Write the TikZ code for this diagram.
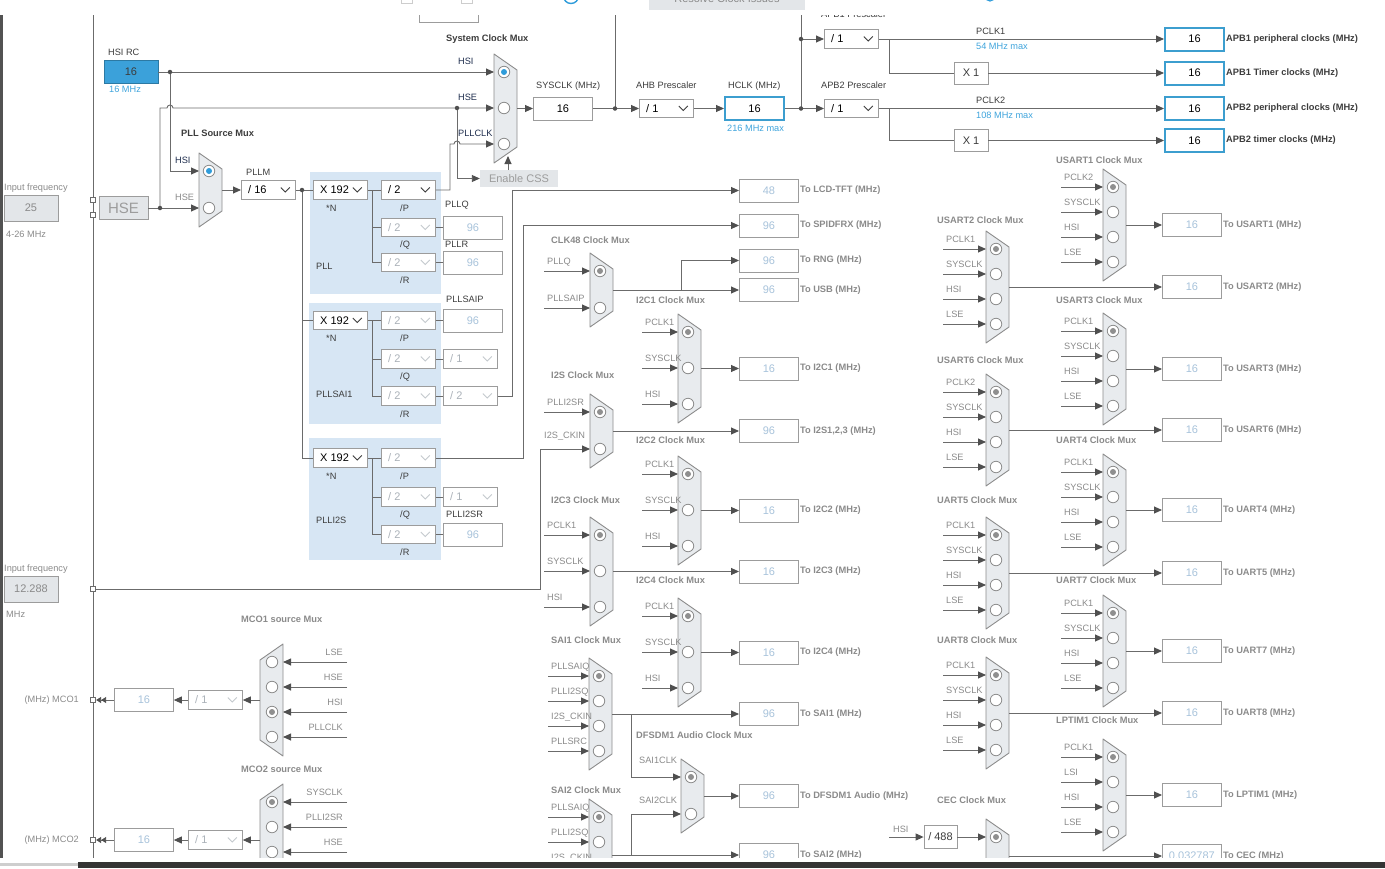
\documentclass[tikz,border=0pt]{standalone}
\usepackage{fontspec}
\setmainfont{Liberation Sans}
\usetikzlibrary{arrows.meta, positioning}

% colours
\definecolor{wirec}{HTML}{6B6B6B}
\definecolor{tipc}{HTML}{4F4F4F}
\definecolor{muxfill}{HTML}{E8EBEE}
\definecolor{muxedge}{HTML}{8C8C8C}
\definecolor{plltint}{HTML}{D7E6F4}
\definecolor{hotblue}{HTML}{3C9ECF}
\definecolor{hsifill}{HTML}{3BA1DA}
\definecolor{skytxt}{HTML}{3FA4DC}
\definecolor{dimval}{HTML}{A8C3DB}
\definecolor{dimtxt}{HTML}{ABB2B9}
\definecolor{graytxt}{HTML}{8A8A8A}
\definecolor{darktxt}{HTML}{3C3C3C}
\definecolor{navytxt}{HTML}{1F2E4E}
\definecolor{panelgray}{HTML}{E3E6E9}
\definecolor{boxedge}{HTML}{9C9C9C}
\definecolor{selblue}{HTML}{2F9CDA}
\definecolor{selgray}{HTML}{8F8F8F}
\definecolor{barc}{HTML}{343434}

\newcommand{\lblfont}{\fontsize{9.2}{10}\selectfont}
\newcommand{\ttlfont}{\fontsize{9.3}{10}\selectfont\bfseries}
\newcommand{\valfont}{\fontsize{11}{13}\selectfont}

\tikzset{
    wire/.style={draw=wirec, line width=0.9pt},
    feed/.style={wire, -{Triangle[length=8pt, width=7pt, color=tipc]}},
    dfeed/.style={wire, -{Triangle[length=5pt, width=6pt, color=tipc] Triangle[length=5pt, width=6pt, color=tipc]}},
    junction/.style={circle, fill=tipc, minimum size=4.5pt, inner sep=0pt},
    port/.style={draw=wirec, fill=white, minimum size=5.5pt, inner sep=0pt, line width=0.8pt},
    muxbody/.style={draw=muxedge, fill=muxfill, line width=0.9pt, line join=round},
    radio/.style={circle, draw=muxedge, fill=white, minimum size=11.5pt, inner sep=0pt, line width=0.8pt},
    radiodot/.style={circle, fill=#1, minimum size=6pt, inner sep=0pt},
    valbox/.style={draw=boxedge, fill=white, minimum width=59pt, minimum height=23pt,
        inner sep=0pt, line width=0.8pt, font=\valfont, text=dimval},
    livebox/.style={valbox, text=black},
    hotbox/.style={valbox, draw=hotblue, line width=2pt, text=black},
    pickbox/.style={draw=boxedge, fill=white, minimum width=54pt, minimum height=18.5pt,
        inner sep=0pt, line width=0.8pt},
    plainbox/.style={draw=boxedge, fill=white, minimum height=22pt, inner sep=0pt,
        line width=0.8pt, font=\valfont, text=darktxt},
    greybox/.style={draw=boxedge, fill=panelgray, inner sep=0pt, line width=0.8pt, text=graytxt},
    lbl/.style={font=\lblfont, text=darktxt, inner sep=0pt, anchor=base west},
    inlab/.style={lbl, text=graytxt},
    livelab/.style={lbl, text=navytxt},
    skylab/.style={lbl, text=skytxt},
    ttl/.style={lbl, font=\ttlfont},
    gttl/.style={ttl, text=graytxt},
    outlab/.style={font=\ttlfont, text=graytxt, inner sep=1pt, anchor=west},
    apblab/.style={outlab, text=darktxt},
}

% right-facing selector: name, left x, first radio y, inputs, pitch, chosen input, dot colour
\newcommand{\clkmux}[7]{%
  \pgfmathsetmacro\mxtop{#3-18}%
  \pgfmathsetmacro\mxbot{#3+(#4-1)*#5+19}%
  \pgfmathsetmacro\mxmid{(\mxtop+\mxbot)/2}%
  \draw[muxbody] (#2,\mxtop) -- (#2+23,\mxtop+16) -- (#2+23,\mxbot-16) -- (#2,\mxbot) -- cycle;
  \coordinate (#1-out) at (#2+23,\mxmid);
  \foreach \k in {1,...,#4}{%
    \pgfmathsetmacro\mxry{#3+(\k-1)*#5}%
    \node[radio] (#1-r\k) at (#2+10,\mxry) {};
    \coordinate (#1-in\k) at (#2,\mxry);
  }%
  \node[radiodot=#7] (#1-sel) at (#1-r#6) {};
}
% left-facing selector (MCO): name, right x, first radio y, inputs, pitch, chosen input
\newcommand{\mcomux}[6]{%
  \pgfmathsetmacro\mxtop{#3-18}%
  \pgfmathsetmacro\mxbot{#3+(#4-1)*#5+19}%
  \pgfmathsetmacro\mxmid{(\mxtop+\mxbot)/2}%
  \draw[muxbody] (#2,\mxtop) -- (#2,\mxbot) -- (#2-23,\mxbot-16) -- (#2-23,\mxtop+16) -- cycle;
  \coordinate (#1-out) at (#2-23,\mxmid);
  \foreach \k in {1,...,#4}{%
    \pgfmathsetmacro\mxry{#3+(\k-1)*#5}%
    \node[radio] (#1-r\k) at (#2-11,\mxry) {};
    \coordinate (#1-in\k) at (#2,\mxry);
  }%
  \node[radiodot=selgray] (#1-sel) at (#1-r#6) {};
}
% input leads from the left: mux name, lead length, labels
\newcommand{\feeds}[3]{%
  \foreach \feedname [count=\k] in {#3}{%
    \coordinate (#1-src\k) at ([xshift=-#2pt]#1-in\k);
    \draw[feed] (#1-src\k) -- (#1-in\k);
    \node[inlab] (#1-l\k) at ([xshift=3pt, yshift=7pt]#1-src\k) {\feedname};
  }%
}
% input leads from the right
\newcommand{\feedsR}[3]{%
  \foreach \feedname [count=\k] in {#3}{%
    \coordinate (#1-src\k) at ([xshift=#2pt]#1-in\k);
    \draw[feed] (#1-src\k) -- (#1-in\k);
    \node[inlab, anchor=base east] (#1-l\k) at ([xshift=-4pt, yshift=7pt]#1-src\k) {\feedname};
  }%
}
% output value box: mux name, column, value, label
\newcommand{\tapout}[4]{%
  \node[valbox, anchor=west] (#1-box) at (#1-out -| #2) {#3};
  \node[outlab] (#1-txt) at (#1-box.east) {#4};
  \draw[feed] (#1-out) -- (#1-box);
}
% drop-down: name, left x, y, text, live
\newcommand{\pick}[5]{%
  \ifnum#5=1 \def\pickink{black}\def\pickedge{darktxt}\else\def\pickink{dimtxt}\def\pickedge{dimtxt!70}\fi
  \node[pickbox, anchor=west] (#1) at (#2,#3) {};
  \node[font=\valfont, text=\pickink, anchor=west, inner sep=0pt] (#1-t) at ([xshift=7pt]#1.west) {#4};
  \draw[draw=\pickedge, line width=0.8pt] ([xshift=-15pt, yshift=2.5pt]#1.east) -- ++(4.5pt,-4.5pt) -- ++(4.5pt,4.5pt);
}
% PLL core: name, N row y, Q y, R y, P live
\newcommand{\pllcore}[5]{%
  \pick{#1N}{313}{#2}{X 192}{1}
  \pick{#1P}{381}{#2}{/ 2}{#5}
  \pick{#1Q}{381}{#3}{/ 2}{0}
  \pick{#1R}{381}{#4}{/ 2}{0}
  \node[lbl] (#1-n) at (326,#2+21) {*N};
  \node[lbl] (#1-p) at (400,#2+21) {/P};
  \node[lbl] (#1-q) at (400,#3+20) {/Q};
  \node[lbl] (#1-r) at (400,#4+21) {/R};
  \coordinate (#1Fork) at (372,#2);
  \draw[wire] (#1N) -- (#1P);
  \draw[wire] (#1Fork) |- (#1Q);
  \draw[wire] (#1Fork) |- (#1R);
}

\begin{document}
\begin{tikzpicture}[x=1pt, y=-1pt]
  \useasboundingbox (0,0) rectangle (1385,868);
  % toolbar remnants
  \node[fill=panelgray, minimum width=156pt, minimum height=22pt, inner sep=0pt,
        font=\valfont, text=graytxt] (resolve) at (727,-1) {Resolve Clock Issues};
  \draw[draw=selblue, line width=1.4pt] (571,-4) circle[radius=7.5pt];
  \draw[draw=selblue, line width=1.2pt] (990,-4) circle[radius=5pt];
  \draw[draw=boxedge!50] (401,-10) rectangle (412,3);
  \draw[draw=boxedge!50] (461,-10) rectangle (472,3);

  \begin{scope}
    \clip (0,15) rectangle (1385,857);
    % PLL backdrops
    \fill[plltint] (310,172) rectangle (441,294);
    \fill[plltint] (309,303) rectangle (441,424);
    \fill[plltint] (309,438) rectangle (441,560);
    % border and input rail
    \draw[line width=2.6pt, draw=barc!85] (1.3,0) -- (1.3,868);
    \coordinate (railN) at (93,0);
    \coordinate (railS) at (93,868);
    \draw[wire] (railN) -- (railS);
    \coordinate (colB) at (739,0);
    \coordinate (colE) at (1162,0);
    \draw[draw=boxedge] (419,0) rectangle (478,22);
    \node[lbl] (apbAT) at (821,17) {APB1 Prescaler};

    % oscillators
    \node[lbl, text=graytxt] (hseFreqT) at (4,190) {Input frequency};
    \node[greybox, minimum width=54pt, minimum height=26pt, font=\valfont] (hseFreq) at (31,208) {25};
    \node[lbl, text=graytxt] (hseRange) at (6,237) {4-26 MHz};
    \node[greybox, minimum width=49pt, minimum height=23pt, font=\fontsize{15}{17}\selectfont, text=boxedge] (hse) at (123.5,208) {HSE};
    \node[port] (hsePortA) at (93,200) {};
    \node[port] (hsePortB) at (93,215) {};
    \node[lbl] (hsiT) at (108,55) {HSI RC};
    \node[draw=hsifill!75!black, fill=hsifill, minimum width=54pt, minimum height=23pt,
          font=\valfont, text=darktxt, line width=0.8pt] (hsi) at (131,72) {16};
    \node[skylab] (hsiF) at (109,92) {16 MHz};

    % PLL source and system clock selectors
    \node[ttl] (pllsrcT) at (181,136) {PLL Source Mux};
    \clkmux{pllsrc}{199}{171}{2}{37}{1}{selblue}
    \node[ttl] (sysmuxT) at (446,41) {System Clock Mux};
    \clkmux{sysmux}{494}{72}{3}{36}{1}{selblue}
    \node[livelab] (pllsrcL1) at (175,163) {HSI};
    \node[inlab] (pllsrcL2) at (175,200) {HSE};
    \node[livelab] (sysmuxL1) at (458,64) {HSI};
    \node[livelab] (sysmuxL2) at (458,100) {HSE};
    \node[livelab] (sysmuxL3) at (458,136) {PLLCLK};
    \coordinate (hsiJ) at (170,72);
    \coordinate (hseJ) at (160,208);
    \coordinate (hopA) at (167,108);
    \coordinate (cssJ) at (457,108);
    \draw[feed] (hsi) -- (sysmux-in1);
    \draw[feed] (hsiJ) |- (pllsrc-in1);
    \draw[feed] (hse) -- (pllsrc-in2);
    \draw[feed] (hseJ) |- (hopA) arc[start angle=180, end angle=0, radius=3pt] -- (sysmux-in2);
    \node[fill=panelgray, minimum width=78pt, minimum height=17pt, inner sep=0pt,
          font=\valfont, text=boxedge] (css) at (519,178.5) {Enable CSS};
    \draw[feed] (cssJ) |- (css);
    \coordinate (cssUp) at (508,170);
    \coordinate (cssTip) at (508,156);
    \draw[feed] (cssUp) -- (cssTip);

    % PLLs
    \pick{pllm}{241}{190}{/ 16}{1}
    \node[lbl] (pllmT) at (246,175) {PLLM};
    \draw[feed] (pllsrc-out) -- (pllm);
    \pllcore{pll}{190}{227.5}{262.5}{1}
    \pllcore{sai}{320.5}{359}{396}{0}
    \pllcore{i2s}{458}{497}{534.5}{0}
    \coordinate (pllmJ) at (302,190);
    \draw[wire] (pllm) -- (pllN);
    \draw[wire] (pllmJ) |- (saiN);
    \draw[wire] (pllmJ) |- (i2sN);
    \node[lbl] (pllT) at (316,269) {PLL};
    \node[lbl] (saiT) at (316,397) {PLLSAI1};
    \node[lbl] (i2sT) at (316,523) {PLLI2S};
    \coordinate (pllclkA) at (450,190);
    \coordinate (hopB) at (454,144);
    \draw[feed] (pllP) -- (pllclkA) |- (hopB) arc[start angle=180, end angle=0, radius=3pt] -- (sysmux-in3);
    \node[lbl] (pllQT) at (445,207) {PLLQ};
    \node[valbox, anchor=west] (pllQout) at (443,227.5) {96};
    \node[lbl] (pllRT) at (445,247) {PLLR};
    \node[valbox, anchor=west] (pllRout) at (443,262.5) {96};
    \draw[wire] (pllQ) -- (pllQout);
    \draw[wire] (pllR) -- (pllRout);
    \node[lbl] (saiPT) at (446,302) {PLLSAIP};
    \node[valbox, anchor=west] (saiPout) at (443,320.5) {96};
    \draw[wire] (saiP) -- (saiPout);
    \pick{saiQdiv}{443}{359}{/ 1}{0}
    \pick{saiRdiv}{443}{396}{/ 2}{0}
    \draw[wire] (saiQ) -- (saiQdiv);
    \draw[wire] (saiR) -- (saiRdiv);
    \pick{i2sQdiv}{443}{497}{/ 1}{0}
    \node[lbl] (i2sRT) at (446,517) {PLLI2SR};
    \node[valbox, anchor=west] (i2sRout) at (443,534.5) {96};
    \draw[wire] (i2sQ) -- (i2sQdiv);
    \draw[wire] (i2sR) -- (i2sRout);

    % system bus
    \node[livebox, right=16pt of sysmux-out] (sysclk) {16};
    \node[lbl] (sysclkT) at (536,88) {SYSCLK (MHz)};
    \pick{ahb}{639}{108.5}{/ 1}{1}
    \node[lbl] (ahbT) at (636,88) {AHB Prescaler};
    \node[hotbox, anchor=west] (hclk) at (724,108.5) {16};
    \node[lbl] (hclkT) at (728,88) {HCLK (MHz)};
    \node[skylab] (hclkMax) at (727,131) {216 MHz max};
    \pick{apbA}{824}{39}{/ 1}{1}
    \pick{apbB}{824}{108.5}{/ 1}{1}
    \node[lbl] (apbBT) at (821,88) {APB2 Prescaler};
    \coordinate (ahbJ) at (615,108.5);
    \coordinate (ahbN) at (615,0);
    \coordinate (apbJ) at (801,108.5);
    \coordinate (apbN) at (801,0);
    \coordinate (apbAJ) at (801,39);
    \draw[feed] (sysmux-out) -- (sysclk);
    \draw[feed] (sysclk) -- (ahb);
    \draw[wire] (ahbJ) -- (ahbN);
    \draw[feed] (ahb) -- (hclk);
    \draw[feed] (hclk) -- (apbB);
    \draw[wire] (apbJ) -- (apbN);
    \draw[feed] (apbAJ) -- (apbA);
    \node[hotbox, anchor=west] (apbAper) at (1164,39) {16};
    \node[hotbox, anchor=west] (apbAtim) at (1164,73) {16};
    \node[hotbox, anchor=west] (apbBper) at (1164,108.5) {16};
    \node[hotbox, anchor=west] (apbBtim) at (1164,140.5) {16};
    \node[apblab] (apbAperT) at (apbAper.east) {APB1 peripheral clocks (MHz)};
    \node[apblab] (apbAtimT) at (apbAtim.east) {APB1 Timer clocks (MHz)};
    \node[apblab] (apbBperT) at (apbBper.east) {APB2 peripheral clocks (MHz)};
    \node[apblab] (apbBtimT) at (apbBtim.east) {APB2 timer clocks (MHz)};
    \node[plainbox, minimum width=34pt] (timA) at (971,73) {X 1};
    \node[plainbox, minimum width=34pt] (timB) at (971,140.5) {X 1};
    \coordinate (pclkAJ) at (889,39);
    \coordinate (pclkBJ) at (889,108.5);
    \draw[feed] (apbA) -- (apbAper);
    \draw[wire] (pclkAJ) |- (timA);
    \draw[feed] (timA) -- (apbAtim);
    \draw[feed] (apbB) -- (apbBper);
    \draw[wire] (pclkBJ) |- (timB);
    \draw[feed] (timB) -- (apbBtim);
    \node[lbl] (pclkAT) at (976,34) {PCLK1};
    \node[skylab] (pclkAMax) at (976,49) {54 MHz max};
    \node[lbl] (pclkBT) at (976,103) {PCLK2};
    \node[skylab] (pclkBMax) at (976,118) {108 MHz max};

    % PLL-fed outputs
    \node[valbox, anchor=west] (lcd) at (739,190.5) {48};
    \node[outlab] (lcdT) at (lcd.east) {To LCD-TFT (MHz)};
    \node[valbox, anchor=west] (spdif) at (739,225.5) {96};
    \node[outlab] (spdifT) at (spdif.east) {To SPIDFRX (MHz)};
    \coordinate (lcdBend) at (512,396);
    \coordinate (spdifBend) at (523,458);
    \draw[feed] (saiRdiv) -- (lcdBend) |- (lcd);
    \draw[feed] (i2sP) -- (spdifBend) |- (spdif);

    % CLK48
    \node[gttl] (clkBT) at (551,243) {CLK48 Clock Mux};
    \clkmux{clkB}{590}{271}{2}{37}{1}{selgray}
    \feeds{clkB}{46}{PLLQ,PLLSAIP}
    \tapout{clkB}{colB}{96}{To USB (MHz)}
    \node[valbox, anchor=west] (rng) at (739,260.5) {96};
    \node[outlab] (rngT) at (rng.east) {To RNG (MHz)};
    \coordinate (rngJ) at (681,290);
    \draw[feed] (rngJ) |- (rng);

    % I2S
    \node[gttl] (i2smT) at (551,378) {I2S Clock Mux};
    \clkmux{i2sm}{590}{412}{2}{37}{1}{selgray}
    \feeds{i2sm}{46}{PLLI2SR}
    \node[lbl, text=graytxt] (ckinFreqT) at (4,571) {Input frequency};
    \node[greybox, minimum width=54pt, minimum height=26pt, font=\valfont] (ckinFreq) at (31,589) {12.288};
    \node[lbl, text=graytxt] (ckinUnit) at (6,617) {MHz};
    \node[port] (ckinPort) at (93,589) {};
    \coordinate (ckinBend) at (540,589);
    \draw[feed] (ckinPort) -- (ckinBend) |- (i2sm-in2);
    \node[inlab] (i2smL2) at (544,438) {I2S\_CKIN};
    \tapout{i2sm}{colB}{96}{To I2S1,2,3 (MHz)}

    % I2C3
    \node[gttl] (i2cCT) at (551,503) {I2C3 Clock Mux};
    \clkmux{i2cC}{590}{535}{3}{36}{1}{selgray}
    \feeds{i2cC}{46}{PCLK1,SYSCLK,HSI}
    \tapout{i2cC}{colB}{16}{To I2C3 (MHz)}

    % SAI1 / SAI2 / DFSDM1
    \node[gttl] (saiOneT) at (551,643) {SAI1 Clock Mux};
    \clkmux{saiOne}{589}{676}{4}{25}{1}{selgray}
    \feeds{saiOne}{41}{PLLSAIQ,PLLI2SQ,I2S\_CKIN,PLLSRC}
    \tapout{saiOne}{colB}{96}{To SAI1 (MHz)}
    \node[gttl] (saiTwoT) at (551,793) {SAI2 Clock Mux};
    \clkmux{saiTwo}{589}{817}{4}{25}{1}{selgray}
    \feeds{saiTwo}{41}{PLLSAIQ,PLLI2SQ,I2S\_CKIN,PLLSRC}
    \tapout{saiTwo}{colB}{96}{To SAI2 (MHz)}
    \node[gttl] (dfsdmT) at (636,738) {DFSDM1 Audio Clock Mux};
    \clkmux{dfsdm}{681}{777}{2}{37}{1}{selgray}
    \coordinate (saiOneJ) at (631,714);
    \coordinate (saiTwoJ) at (631,855);
    \draw[feed] (saiOneJ) |- (dfsdm-in1);
    \draw[feed] (saiTwoJ) |- (dfsdm-in2);
    \node[inlab] (dfsdmL1) at (639,763) {SAI1CLK};
    \node[inlab] (dfsdmL2) at (639,803) {SAI2CLK};
    \tapout{dfsdm}{colB}{96}{To DFSDM1 Audio (MHz)}

    % I2C1 / I2C2 / I2C4
    \node[gttl] (i2cAT) at (636,303) {I2C1 Clock Mux};
    \clkmux{i2cA}{678}{332}{3}{36}{1}{selgray}
    \feeds{i2cA}{36}{PCLK1,SYSCLK,HSI}
    \tapout{i2cA}{colB}{16}{To I2C1 (MHz)}
    \node[gttl] (i2cBT) at (636,443) {I2C2 Clock Mux};
    \clkmux{i2cB}{678}{474}{3}{36}{1}{selgray}
    \feeds{i2cB}{36}{PCLK1,SYSCLK,HSI}
    \tapout{i2cB}{colB}{16}{To I2C2 (MHz)}
    \node[gttl] (i2cDT) at (636,583) {I2C4 Clock Mux};
    \clkmux{i2cD}{678}{616}{3}{36}{1}{selgray}
    \feeds{i2cD}{36}{PCLK1,SYSCLK,HSI}
    \tapout{i2cD}{colB}{16}{To I2C4 (MHz)}

    % USART2 / USART6 / UART5 / UART8 / CEC
    \node[gttl] (usartBT) at (937,223) {USART2 Clock Mux};
    \clkmux{usartB}{986}{249}{4}{25}{1}{selgray}
    \feeds{usartB}{43}{PCLK1,SYSCLK,HSI,LSE}
    \tapout{usartB}{colE}{16}{To USART2 (MHz)}
    \node[gttl] (usartFT) at (937,363) {USART6 Clock Mux};
    \clkmux{usartF}{986}{392}{4}{25}{1}{selgray}
    \feeds{usartF}{43}{PCLK2,SYSCLK,HSI,LSE}
    \tapout{usartF}{colE}{16}{To USART6 (MHz)}
    \node[gttl] (uartET) at (937,503) {UART5 Clock Mux};
    \clkmux{uartE}{986}{535}{4}{25}{1}{selgray}
    \feeds{uartE}{43}{PCLK1,SYSCLK,HSI,LSE}
    \tapout{uartE}{colE}{16}{To UART5 (MHz)}
    \node[gttl] (uartHT) at (937,643) {UART8 Clock Mux};
    \clkmux{uartH}{986}{675}{4}{25}{1}{selgray}
    \feeds{uartH}{43}{PCLK1,SYSCLK,HSI,LSE}
    \tapout{uartH}{colE}{16}{To UART8 (MHz)}
    \node[gttl] (cecT) at (937,803) {CEC Clock Mux};
    \clkmux{cec}{986}{837}{2}{37}{1}{selgray}
    \node[plainbox, minimum width=33pt, minimum height=23pt] (cecDiv) at (940.5,837) {/ 488};
    \coordinate (cecSrc) at (889,837);
    \draw[feed] (cecSrc) -- (cecDiv);
    \draw[feed] (cecDiv) -- (cec-in1);
    \node[inlab] (cecL) at (893,832) {HSI};
    \tapout{cec}{colE}{0.032787}{To CEC (MHz)}

    % USART1 / USART3 / UART4 / UART7 / LPTIM1
    \node[gttl] (usartAT) at (1056,163) {USART1 Clock Mux};
    \clkmux{usartA}{1103}{187}{4}{25}{1}{selgray}
    \feeds{usartA}{42}{PCLK2,SYSCLK,HSI,LSE}
    \tapout{usartA}{colE}{16}{To USART1 (MHz)}
    \node[gttl] (usartCT) at (1056,303) {USART3 Clock Mux};
    \clkmux{usartC}{1103}{331}{4}{25}{1}{selgray}
    \feeds{usartC}{42}{PCLK1,SYSCLK,HSI,LSE}
    \tapout{usartC}{colE}{16}{To USART3 (MHz)}
    \node[gttl] (uartDT) at (1056,443) {UART4 Clock Mux};
    \clkmux{uartD}{1103}{472}{4}{25}{1}{selgray}
    \feeds{uartD}{42}{PCLK1,SYSCLK,HSI,LSE}
    \tapout{uartD}{colE}{16}{To UART4 (MHz)}
    \node[gttl] (uartGT) at (1056,583) {UART7 Clock Mux};
    \clkmux{uartG}{1103}{613}{4}{25}{1}{selgray}
    \feeds{uartG}{42}{PCLK1,SYSCLK,HSI,LSE}
    \tapout{uartG}{colE}{16}{To UART7 (MHz)}
    \node[gttl] (lptimT) at (1056,723) {LPTIM1 Clock Mux};
    \clkmux{lptim}{1103}{757}{4}{25}{1}{selgray}
    \feeds{lptim}{42}{PCLK1,LSI,HSI,LSE}
    \tapout{lptim}{colE}{16}{To LPTIM1 (MHz)}

    % MCO outputs
    \node[gttl] (mcoAT) at (241,622) {MCO1 source Mux};
    \mcomux{mcoA}{283}{662}{4}{25}{3}
    \feedsR{mcoA}{64}{LSE,HSE,HSI,PLLCLK}
    \pick{mcoAdiv}{188}{700}{/ 1}{0}
    \node[valbox, anchor=west] (mcoAval) at (114,700) {16};
    \node[port] (mcoAport) at (93,700) {};
    \node[font=\lblfont, text=graytxt, anchor=east, inner sep=0pt] (mcoAname) at (79,700) {(MHz) MCO1};
    \draw[feed] (mcoA-out) -- (mcoAdiv);
    \draw[feed] (mcoAdiv) -- (mcoAval);
    \draw[dfeed] (mcoAval) -- (mcoAport);
    \node[gttl] (mcoBT) at (241,772) {MCO2 source Mux};
    \mcomux{mcoB}{283}{802}{4}{25}{1}
    \feedsR{mcoB}{64}{SYSCLK,PLLI2SR,HSE,PLLCLK}
    \pick{mcoBdiv}{188}{840}{/ 1}{0}
    \node[valbox, anchor=west] (mcoBval) at (114,840) {16};
    \node[port] (mcoBport) at (93,840) {};
    \node[font=\lblfont, text=graytxt, anchor=east, inner sep=0pt] (mcoBname) at (79,840) {(MHz) MCO2};
    \draw[feed] (mcoB-out) -- (mcoBdiv);
    \draw[feed] (mcoBdiv) -- (mcoBval);
    \draw[dfeed] (mcoBval) -- (mcoBport);

    % junction dots
    \foreach \j in {hsiJ, hseJ, cssJ, pllmJ, ahbJ, apbJ, apbAJ}
      \node[junction] (\j-dot) at (\j) {};
  \end{scope}
  % status bar
  \fill[barc] (78,862) rectangle (1385,868);
  \fill[boxedge!50] (0,863) rectangle (78,866);
\end{tikzpicture}
\end{document}
